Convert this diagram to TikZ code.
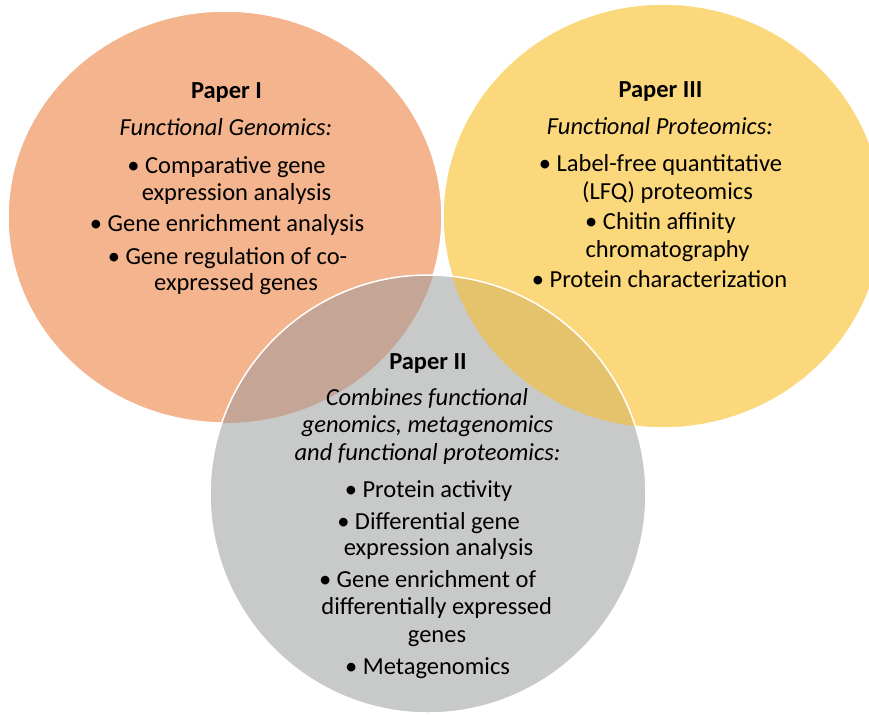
\documentclass[tikz,border=0pt]{standalone}
\usepackage{fontspec}
\setmainfont{Carlito}
\definecolor{orangeC}{RGB}{243,180,142}
\definecolor{yellowC}{RGB}{251,216,124}
\definecolor{grayC}{RGB}{200,201,201}
\definecolor{ogC}{RGB}{197,166,150}
\definecolor{ygC}{RGB}{229,195,108}
\tikzset{
  txt/.style={anchor=base, inner sep=0pt, font=\fontsize{24.5}{29}\selectfont},
  ttl/.style={txt, font=\fontsize{24.5}{29}\selectfont\bfseries},
  itl/.style={txt, font=\fontsize{24.5}{29}\selectfont\itshape},
  rim/.style={draw=white, line width=1.5pt}
}
\begin{document}
\begin{tikzpicture}[x=1pt,y=-1pt]
\useasboundingbox (0,0) rectangle (869,715);
\path[clip] (0,0) rectangle (869,715);
% circles
\fill[orangeC, rim] (225,217) ellipse [x radius=217pt, y radius=206pt];
\fill[yellowC, rim] (663,216) ellipse [x radius=220pt, y radius=212pt];
\fill[grayC] (428,494) ellipse [x radius=218pt, y radius=219pt];
\begin{scope}
  \clip (428,494) ellipse [x radius=218pt, y radius=219pt];
  \fill[ogC] (225,217) ellipse [x radius=217pt, y radius=206pt];
  \fill[ygC] (663,216) ellipse [x radius=220pt, y radius=212pt];
\end{scope}
\draw[rim] (428,494) ellipse [x radius=218pt, y radius=219pt];
% Paper I
\node[ttl] (p1a) at (226.5,98) {Paper I};
\node[itl] (p1b) at (226,135) {Functional Genomics:};
\node[txt] (p1c) at (226.5,173) {•\ Comparative gene};
\node[txt] (p1d) at (236.5,200) {expression analysis};
\node[txt] (p1e) at (227,231) {•\ Gene enrichment analysis};
\node[txt] (p1f) at (227.5,264) {•\ Gene regulation of co-};
\node[txt] (p1g) at (236,290) {expressed genes};
% Paper III
\node[ttl] (p3a) at (660.5,97) {Paper III};
\node[itl] (p3b) at (660,134) {Functional Proteomics:};
\node[txt] (p3c) at (660.5,171) {•\ Label-free quantitative};
\node[txt] (p3d) at (667.5,199) {(LFQ) proteomics};
\node[txt] (p3e) at (660.5,229) {•\ Chitin affinity};
\node[txt] (p3f) at (667.5,257) {chromatography};
\node[txt] (p3g) at (659.5,287) {•\ Protein characterization};
% Paper II
\node[ttl] (p2a) at (428,369) {Paper II};
\node[itl] (p2b) at (427,405) {Combines functional};
\node[itl] (p2c) at (427.5,432) {genomics, metagenomics};
\node[itl] (p2d) at (427.5,460) {and functional proteomics:};
\node[txt] (p2e) at (428.5,497) {•\ Protein activity};
\node[txt] (p2f) at (428.5,529) {•\ Differential gene};
\node[txt] (p2g) at (438.5,555) {expression analysis};
\node[txt] (p2h) at (427.5,587) {•\ Gene enrichment of};
\node[txt] (p2i) at (436.7,614) {differentially expressed};
\node[txt] (p2j) at (437,642) {genes};
\node[txt] (p2k) at (427.5,674) {•\ Metagenomics};
\end{tikzpicture}
\end{document}
